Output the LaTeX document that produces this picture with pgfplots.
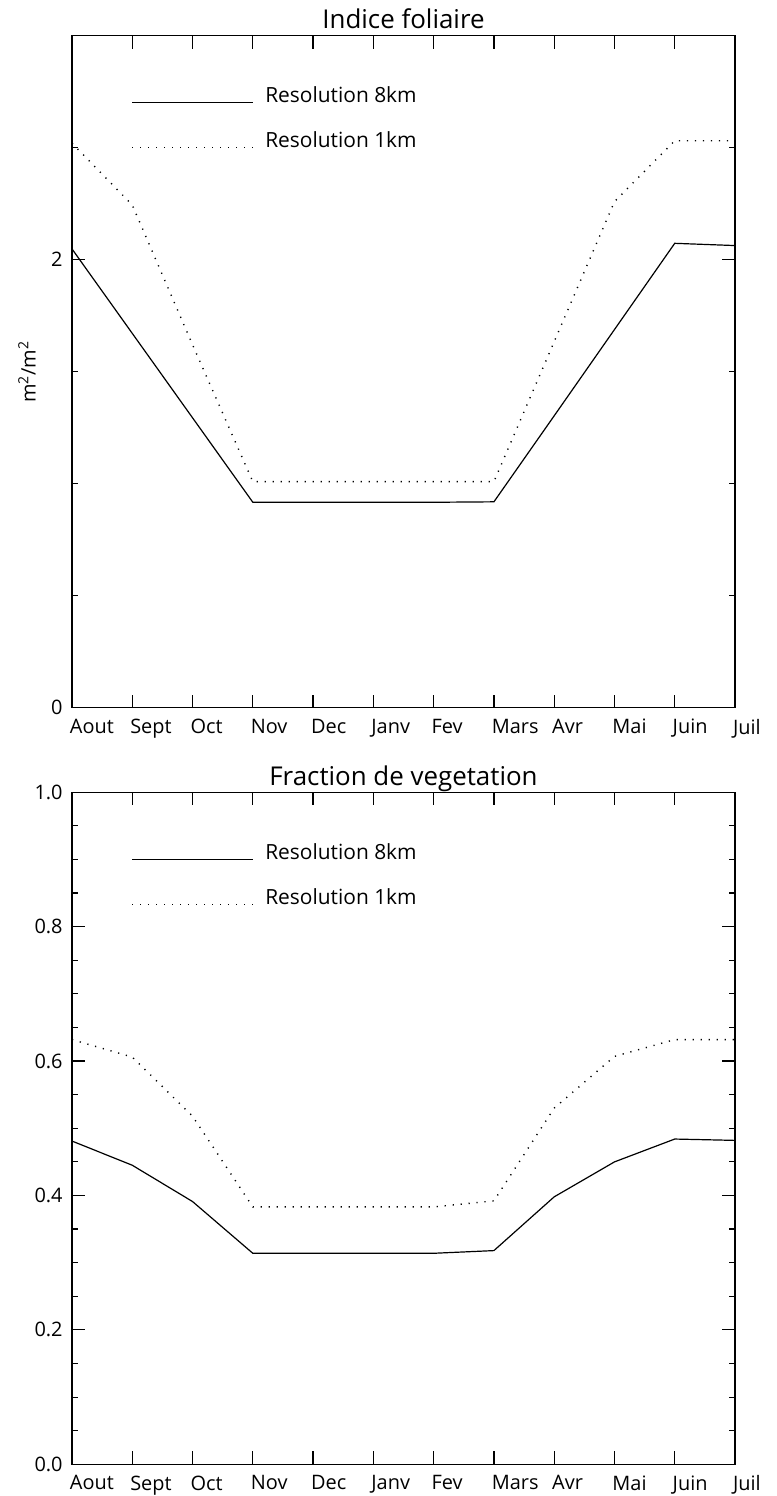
\documentclass[border=0pt]{standalone}
\usepackage{fontspec}
\setmainfont{Open Sans}
\usepackage{pgfplots}
\pgfplotsset{compat=1.18}

\pgfplotsset{
  idlaxis/.style={
    scale only axis,
    width=331.5bp, height=336bp,
    anchor=south west,
    xmin=0, xmax=11,
    xtick={0,1,2,3,4,5,6,7,8,9,10,11},
    xticklabels={Aout,Sept,Oct,Nov,Dec,Janv,Fev,Mars,Avr,Mai,Juin,Juil},
    tick align=inside,
    major tick length=6.5bp,
    minor tick length=3bp,
    axis line style={line width=0.6bp},
    every tick/.style={black, line width=0.6bp},
    tick label style={font=\fontsize{10}{12}\selectfont},
    x tick label style={anchor=north west, inner sep=0pt, yshift=-5.5bp, xshift=-1.2bp},
    y tick label style={anchor=east, inner sep=0pt, xshift=-4.5bp},
    /pgf/number format/assume math mode=true,
    title style={font=\fontsize{13}{15}\selectfont, anchor=base, at={(axis description cs:0.5,1)}, inner sep=0pt, yshift=-2.6bp},
  },
  s8/.style={black, line width=0.6bp, solid},
  s1/.style={black, line width=0.7bp, dash pattern=on 0.6bp off 3.4bp},
}

\begin{document}
\begin{tikzpicture}[x=1bp,y=1bp]
\path[use as bounding box] (0,0) rectangle (388,748);

% ---------------- Top panel ----------------
\begin{axis}[idlaxis,
  at={(36bp,394.15bp)},
  ymin=0, ymax=3,
  ytick={0,2},
  minor ytick={0.5,1,1.5,2.5},
  title={Indice foliaire},
  ylabel={m\textsuperscript{2}/m\textsuperscript{2}},
  ylabel style={at={(axis description cs:0,0.5)}, anchor=center, yshift=22.5bp, font=\fontsize{10}{12}\selectfont},
]
\addplot[s8] coordinates {
 (0,2.048) (1,1.671) (2,1.294) (3,0.917) (4,0.917) (5,0.917) (6,0.917) (7,0.919) (8,1.303) (9,1.688) (10,2.073) (11,2.063)};
\addplot[s1] coordinates {
 (0,2.520) (1,2.244) (2,1.620) (3,1.009) (4,1.009) (5,1.009) (6,1.009) (7,1.009) (8,1.634) (9,2.259) (10,2.531) (11,2.531)};
% legend
\addplot[s8] coordinates {(1,2.70) (3,2.70)};
\addplot[s1] coordinates {(1,2.50) (3,2.50)};
\node[anchor=base west, inner sep=0pt, font=\fontsize{10.5}{12}\selectfont] at (axis cs:3.2,2.70) {Resolution 8km};
\node[anchor=base west, inner sep=0pt, font=\fontsize{10.5}{12}\selectfont] at (axis cs:3.2,2.50) {Resolution 1km};
\end{axis}

% ---------------- Bottom panel ----------------
\begin{axis}[idlaxis,
  at={(36bp,15.85bp)},
  ymin=0, ymax=1,
  ytick={0,0.2,0.4,0.6,0.8,1},
  minor y tick num=3,
  yticklabel style={/pgf/number format/.cd, fixed, fixed zerofill, precision=1},
  title={Fraction de vegetation},
]
\addplot[s8] coordinates {
 (0,0.481) (1,0.445) (2,0.391) (3,0.314) (4,0.314) (5,0.314) (6,0.314) (7,0.318) (8,0.398) (9,0.450) (10,0.484) (11,0.482)};
\addplot[s1] coordinates {
 (0,0.632) (1,0.606) (2,0.518) (3,0.383) (4,0.383) (5,0.383) (6,0.383) (7,0.392) (8,0.530) (9,0.607) (10,0.632) (11,0.632)};
% legend
\addplot[s8] coordinates {(1,0.900) (3,0.900)};
\addplot[s1] coordinates {(1,0.8333) (3,0.8333)};
\node[anchor=base west, inner sep=0pt, font=\fontsize{10.5}{12}\selectfont] at (axis cs:3.2,0.900) {Resolution 8km};
\node[anchor=base west, inner sep=0pt, font=\fontsize{10.5}{12}\selectfont] at (axis cs:3.2,0.8333) {Resolution 1km};
\end{axis}
\end{tikzpicture}
\end{document}
